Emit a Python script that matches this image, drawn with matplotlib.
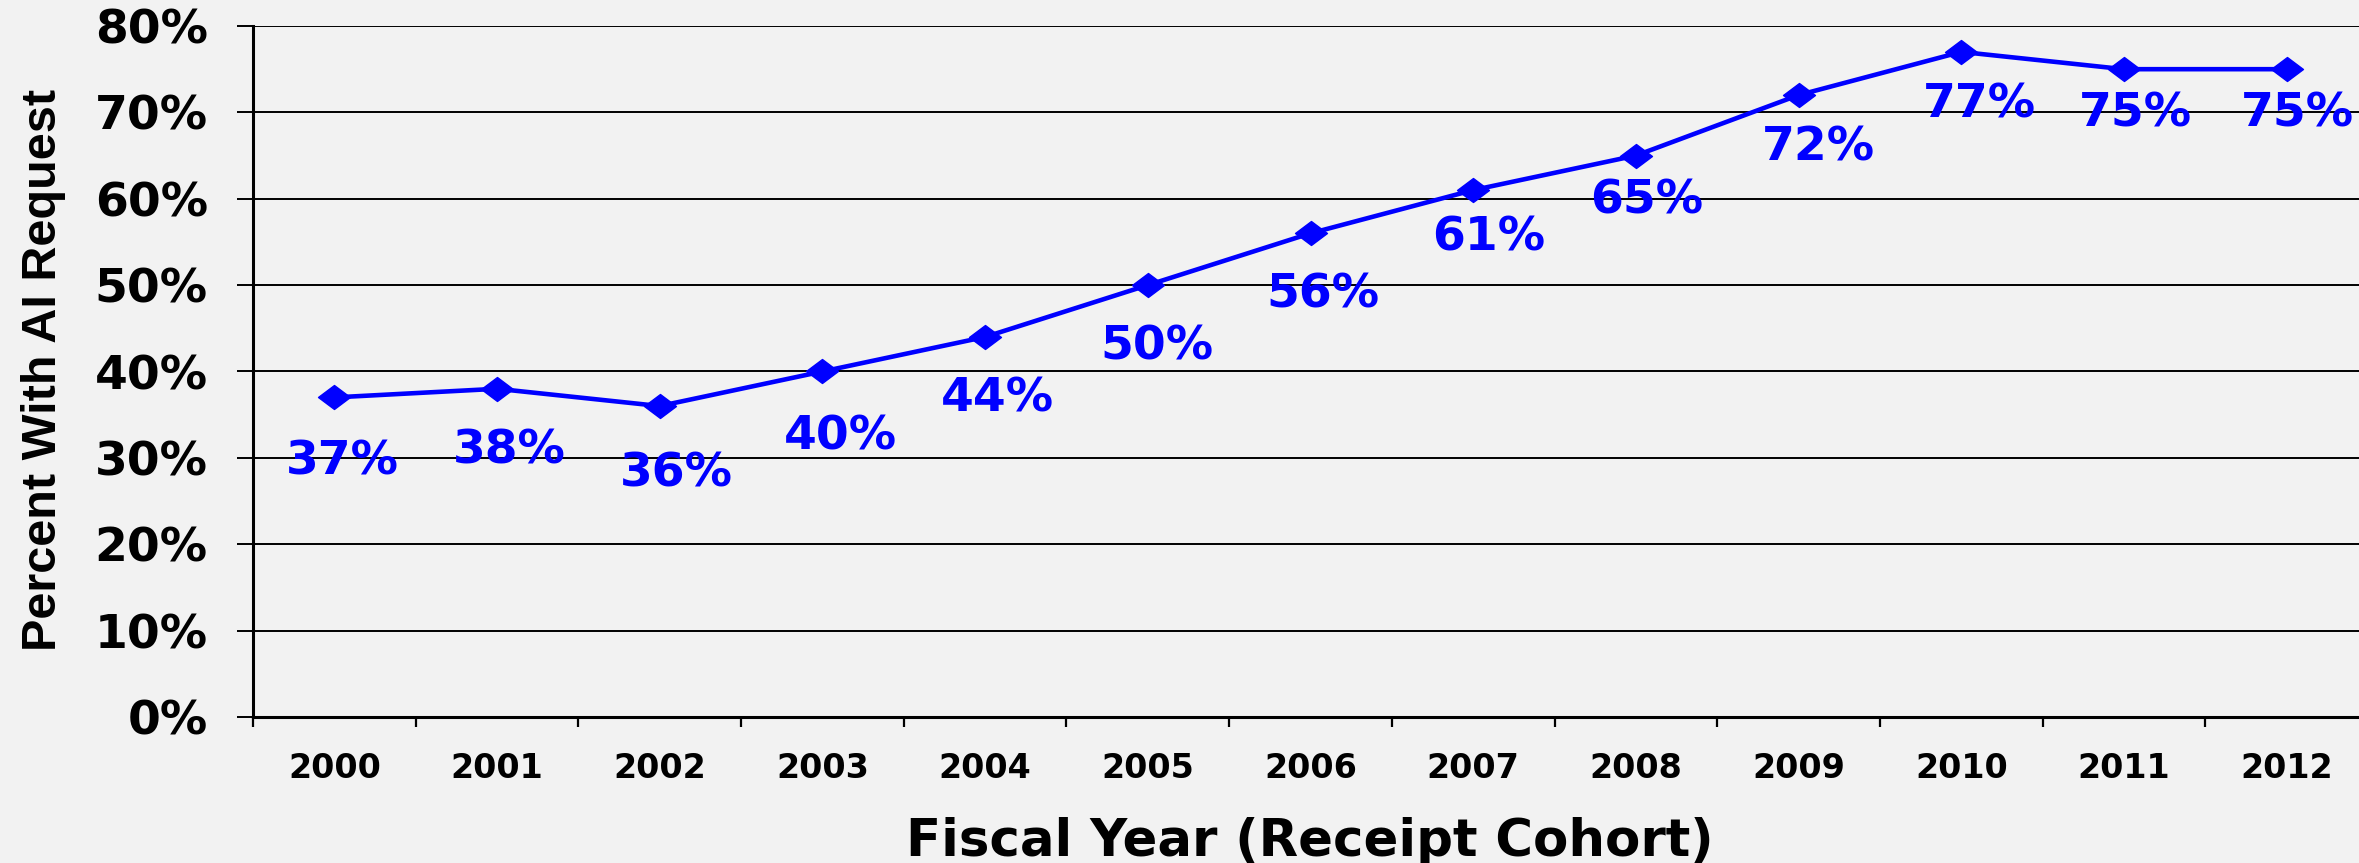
import matplotlib
matplotlib.use('Agg')
import matplotlib.pyplot as plt
from matplotlib.path import Path
from matplotlib.ticker import FixedLocator

# data
years = ['2000', '2001', '2002', '2003', '2004', '2005', '2006',
         '2007', '2008', '2009', '2010', '2011', '2012']
pct = [37, 38, 36, 40, 44, 50, 56, 61, 65, 72, 77, 75, 75]
yticks = [0, 10, 20, 30, 40, 50, 60, 70, 80]

# where each value label sits relative to its point (pixels, right / down)
label_dx = [8, 12, 17, 18, 12, 9, 12, 15, 11, 20, 18, 11, 11]
label_dy = [65, 62, 68, 65, 62, 62, 62, 48, 45, 53, 53, 45, 45]

bg = '#f2f2f2'
blue = '#0000ff'

# wide, flat diamond marker
diamond = Path([(-1, 0), (0, 0.75), (1, 0), (0, -0.75), (-1, 0)],
               [Path.MOVETO, Path.LINETO, Path.LINETO, Path.LINETO, Path.CLOSEPOLY])

fig = plt.figure(figsize=(23.59, 8.63), dpi=100, facecolor=bg)
ax = fig.add_axes([253/2359, 146/863, 2115/2359, 691/863], facecolor=bg)

x = list(range(len(years)))
ax.plot(x, pct, color=blue, lw=3.3, marker=diamond, ms=23, mec=blue, mfc=blue,
        zorder=3, clip_on=False)

# px -> points at 100 dpi
for xi, v, dx, dy in zip(x, pct, label_dx, label_dy):
    ax.annotate('%d%%' % v, (xi, v), xytext=(dx * 0.72, -dy * 0.72),
                textcoords='offset points', ha='center', va='center',
                color=blue, fontsize=34, fontweight='bold', zorder=4)

ax.set_xlim(-0.5, len(years) - 0.5)
ax.set_ylim(0, 80)

ax.set_yticks(yticks)
ax.set_yticklabels(['%d%%' % t for t in yticks])
ax.yaxis.grid(True, color='black', lw=1.4)
ax.set_axisbelow(True)
ax.tick_params(axis='y', length=11.5, width=1.4, pad=21, labelsize=34, colors='black')
for lab in ax.get_yticklabels():
    lab.set_fontweight('bold')

ax.set_xticks(x)
ax.set_xticklabels(years, fontsize=24, fontweight='bold')
ax.xaxis.set_minor_locator(FixedLocator([i - 0.5 for i in range(len(years) + 1)]))
ax.tick_params(axis='x', which='major', length=0, pad=25)
ax.tick_params(axis='x', which='minor', length=7, width=1.6, direction='out')

for s in ['top', 'right']:
    ax.spines[s].set_visible(False)
ax.spines['left'].set_linewidth(2.2)
ax.spines['bottom'].set_linewidth(2.2)

ax.set_ylabel('Percent With AI Request', fontsize=35, fontweight='bold',
              family='Liberation Sans')
ax.yaxis.set_label_coords(66/2359, 493/863, transform=fig.transFigure)
ax.set_xlabel('Fiscal Year (Receipt Cohort)', fontsize=37, fontweight='bold')
ax.xaxis.set_label_coords(1310/2359, 46/863, transform=fig.transFigure)

plt.savefig('out.png', dpi=100, facecolor=bg)
